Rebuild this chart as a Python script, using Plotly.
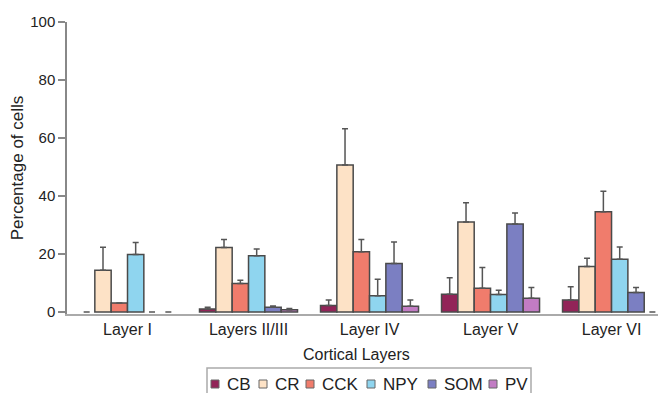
import plotly.graph_objects as go

layers = ["Layer I", "Layers II/III", "Layer IV", "Layer V", "Layer VI"]
series_names = ["CB", "CR", "CCK", "NPY", "SOM", "PV"]

CB = [0.0, 1.0, 2.2, 6.1, 4.1]
CR = [14.4, 22.2, 50.7, 31.0, 15.7]
CCK = [3.1, 9.8, 20.8, 8.2, 34.6]
NPY = [19.8, 19.4, 5.6, 6.0, 18.2]
SOM = [0.0, 1.6, 16.7, 30.3, 6.7]
PV = [0.0, 0.8, 2.0, 4.7, 0.0]

CB_err = [0.0, 0.6, 1.9, 5.7, 4.6]
CR_err = [7.9, 2.8, 12.5, 6.7, 2.8]
CCK_err = [0.0, 1.1, 4.2, 7.1, 7.0]
NPY_err = [4.2, 2.3, 5.7, 1.5, 4.2]
SOM_err = [0.0, 0.5, 7.4, 3.8, 1.7]
PV_err = [0.0, 0.4, 2.1, 3.7, 0.0]

values = [CB, CR, CCK, NPY, SOM, PV]
errors = [CB_err, CR_err, CCK_err, NPY_err, SOM_err, PV_err]
colors = ["#922458", "#fde2c6", "#f07c6c", "#8fd5ef", "#7b7fc2", "#c27cc4"]

# ---- layout geometry (pixels) ----
# The page body adds an 8px margin, so the figure is drawn 8px smaller and
# reference pixel positions are shifted by that offset.
OFF = 8
W, H = 666 - OFF, 393 - OFF
L, R, T, B = 67 - OFF, 0, 22 - OFF, 79
PW, PH = W - L - R, H - T - B


def px(x):
    return (x - OFF - L) / PW


def py(y):
    return (H - B - (y - OFF)) / PH


fig = go.Figure()
for name, v, e, c in zip(series_names, values, errors, colors):
    fig.add_trace(go.Bar(
        x=layers, y=v, name=name, showlegend=False,
        marker=dict(color=c,
                    line=dict(color="#4a4a4a",
                              width=[1.5 if val > 0 else 0 for val in v])),
        error_y=dict(type="data", symmetric=False, array=e,
                     arrayminus=[0] * len(e), visible=True,
                     color="#555555", thickness=1.5, width=3),
    ))

font_fam = "Liberation Sans, Arial, sans-serif"

# manual compact legend
shapes = [dict(type="rect", xref="paper", yref="paper",
               x0=px(207), x1=px(531), y0=py(368), y1=py(400),
               line=dict(color="#aaaaaa", width=1.5), fillcolor="white", layer="below")]
annotations = []
swatch_left = [211, 259, 306, 367, 428, 489]
for name, c, sx in zip(series_names, colors, swatch_left):
    shapes.append(dict(type="rect", xref="paper", yref="paper",
                       x0=px(sx), x1=px(sx + 8), y0=py(388), y1=py(380),
                       fillcolor=c, line=dict(color="#666666", width=1)))
    annotations.append(dict(xref="paper", yref="paper", x=px(sx + 14), y=py(384),
                            text=name, showarrow=False, xanchor="left", yanchor="middle",
                            font=dict(size=17, family=font_fam, color="#222222")))

annotations.append(dict(xref="paper", yref="paper", x=px(356), y=py(354),
                        text="Cortical Layers", showarrow=False,
                        xanchor="center", yanchor="middle",
                        font=dict(size=16, family=font_fam, color="#222222")))

fig.update_layout(
    width=W, height=H,
    margin=dict(l=L, r=R, t=T, b=B),
    paper_bgcolor="white", plot_bgcolor="white",
    barmode="group", bargap=0.19, bargroupgap=0,
    font=dict(family=font_fam, size=16, color="#222222"),
    showlegend=False,
    shapes=shapes,
    annotations=annotations,
    xaxis=dict(range=[-0.5, 4.45], showline=True, linecolor="#aaaaaa", linewidth=2,
               ticks="", showgrid=False, zeroline=False,
               tickfont=dict(size=16)),
    yaxis=dict(range=[-0.7, 100], tickvals=[0, 20, 40, 60, 80, 100],
               showline=True, linecolor="#888888", linewidth=1.5,
               ticks="outside", ticklen=7, tickcolor="#888888", tickwidth=1.5,
               showgrid=False, zeroline=False, tickfont=dict(size=15),
               title=dict(text="Percentage of cells", standoff=10, font=dict(size=17))),
)

fig.write_html("out.html")
